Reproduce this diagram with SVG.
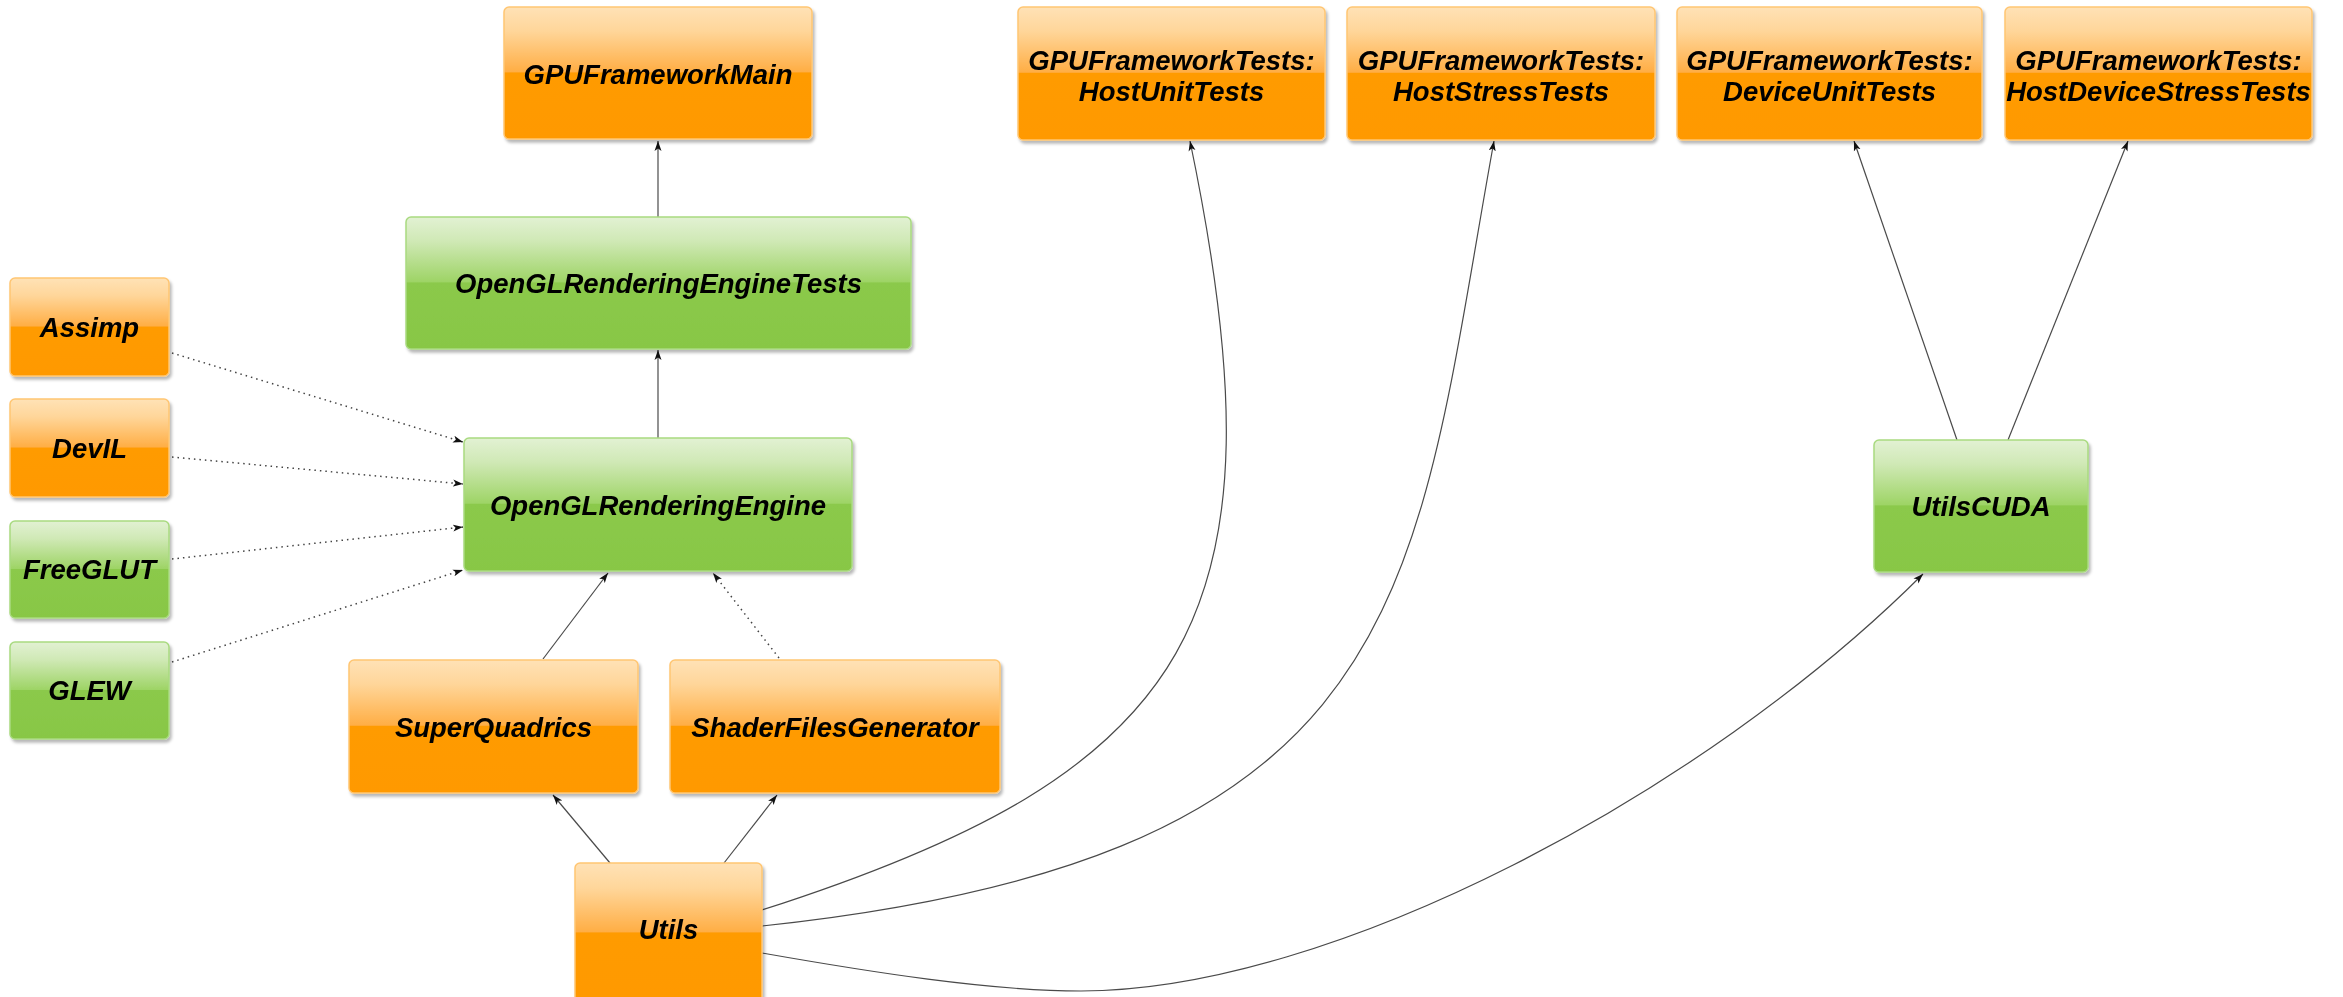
<svg xmlns="http://www.w3.org/2000/svg" width="2343" height="997" viewBox="0 0 2343 997">
<style>
.o{fill:url(#go);stroke:#ffc673;stroke-width:1.5}
.g{fill:url(#gg);stroke:#a9da80;stroke-width:1.5}
.t{font-family:"Liberation Sans",Arial,sans-serif;font-weight:bold;font-style:italic;font-size:27.5px;fill:#000;text-anchor:middle}
.e{fill:none;stroke:#4a4a4a;stroke-width:1.2;marker-end:url(#ah)}
.d{fill:none;stroke:#444;stroke-width:1.5;stroke-dasharray:1.5,4;marker-end:url(#ah)}
</style>
<defs>
<linearGradient id="go" x1="0" y1="0" x2="0" y2="1">
<stop offset="0" stop-color="#ffe2b6"/>
<stop offset="0.18" stop-color="#ffd69a"/>
<stop offset="0.49" stop-color="#ffae45"/>
<stop offset="0.5" stop-color="#ff9b05"/>
<stop offset="1" stop-color="#ff9900"/>
</linearGradient>
<linearGradient id="gg" x1="0" y1="0" x2="0" y2="1">
<stop offset="0" stop-color="#e2f1d3"/>
<stop offset="0.18" stop-color="#d0e9b6"/>
<stop offset="0.49" stop-color="#9ed466"/>
<stop offset="0.5" stop-color="#8bc94b"/>
<stop offset="1" stop-color="#88c745"/>
</linearGradient>
<filter id="sh" x="-5%" y="-5%" width="115%" height="120%">
<feDropShadow dx="2" dy="3" stdDeviation="1.5" flood-color="#000" flood-opacity="0.28"/>
</filter>
<marker id="ah" markerWidth="11" markerHeight="8" refX="10" refY="4" orient="auto" markerUnits="userSpaceOnUse">
<path d="M0,0.5 L10,4 L0,7.5 L2.5,4 z" fill="#111"/>
</marker>
</defs>
<rect width="2343" height="997" fill="#fff"/>

<g id="connectors">
<path class="e" d="M658,217 L658,141"/>
<path class="e" d="M658,438 L658,350"/>
<path class="e" d="M543,659 L608,573"/>
<path class="d" d="M779,658 L713,573"/>
<path class="e" d="M610,863 L553,795"/>
<path class="e" d="M724,863 L777,795"/>
<path class="d" d="M172,353 L463,442"/>
<path class="d" d="M172,457 L463,484"/>
<path class="d" d="M172,559 L463,527"/>
<path class="d" d="M172,662 L463,570"/>
<path class="e" d="M1957,440 L1854,141"/>
<path class="e" d="M2008,440 L2128,141"/>
<path class="e" d="M762,910 C1195,771 1290,621 1190,141"/>
<path class="e" d="M762,926 C1422,856 1413,587 1494,141"/>
<path class="e" d="M762,953 C870,972 990,991 1081,991 C1331,991 1703,794 1923,574"/>
</g>

<g id="GPUFrameworkMain" filter="url(#sh)"><rect class="o" x="504" y="7" width="308" height="132" rx="5"/><text class="t" x="658" y="84">GPUFrameworkMain</text></g>
<g id="HostUnitTests" filter="url(#sh)"><rect class="o" x="1018" y="7" width="307" height="133" rx="5"/><text class="t" x="1171.5" y="70">GPUFrameworkTests:</text><text class="t" x="1171.5" y="101">HostUnitTests</text></g>
<g id="HostStressTests" filter="url(#sh)"><rect class="o" x="1347" y="7" width="308" height="133" rx="5"/><text class="t" x="1501" y="70">GPUFrameworkTests:</text><text class="t" x="1501" y="101">HostStressTests</text></g>
<g id="DeviceUnitTests" filter="url(#sh)"><rect class="o" x="1677" y="7" width="305" height="133" rx="5"/><text class="t" x="1829.5" y="70">GPUFrameworkTests:</text><text class="t" x="1829.5" y="101">DeviceUnitTests</text></g>
<g id="HostDeviceStressTests" filter="url(#sh)"><rect class="o" x="2005" y="7" width="307" height="133" rx="5"/><text class="t" x="2158.5" y="70">GPUFrameworkTests:</text><text class="t" x="2158.5" y="101">HostDeviceStressTests</text></g>
<g id="OpenGLRenderingEngineTests" filter="url(#sh)"><rect class="g" x="406" y="217" width="505" height="132" rx="5"/><text class="t" x="658.5" y="293">OpenGLRenderingEngineTests</text></g>
<g id="OpenGLRenderingEngine" filter="url(#sh)"><rect class="g" x="464" y="438" width="388" height="133" rx="5"/><text class="t" x="658" y="515">OpenGLRenderingEngine</text></g>
<g id="Assimp" filter="url(#sh)"><rect class="o" x="10" y="278" width="159" height="98" rx="5"/><text class="t" x="89.5" y="337">Assimp</text></g>
<g id="DevIL" filter="url(#sh)"><rect class="o" x="10" y="399" width="159" height="98" rx="5"/><text class="t" x="89.5" y="458">DevIL</text></g>
<g id="FreeGLUT" filter="url(#sh)"><rect class="g" x="10" y="521" width="159" height="97" rx="5"/><text class="t" x="89.5" y="579">FreeGLUT</text></g>
<g id="GLEW" filter="url(#sh)"><rect class="g" x="10" y="642" width="159" height="97" rx="5"/><text class="t" x="89.5" y="700">GLEW</text></g>
<g id="SuperQuadrics" filter="url(#sh)"><rect class="o" x="349" y="660" width="289" height="133" rx="5"/><text class="t" x="493.5" y="737">SuperQuadrics</text></g>
<g id="ShaderFilesGenerator" filter="url(#sh)"><rect class="o" x="670" y="660" width="330" height="133" rx="5"/><text class="t" x="835" y="737">ShaderFilesGenerator</text></g>
<g id="Utils" filter="url(#sh)"><rect class="o" x="575" y="863" width="187" height="140" rx="5"/><text class="t" x="668.5" y="939">Utils</text></g>
<g id="UtilsCUDA" filter="url(#sh)"><rect class="g" x="1874" y="440" width="214" height="132" rx="5"/><text class="t" x="1981" y="516">UtilsCUDA</text></g>
</svg>
